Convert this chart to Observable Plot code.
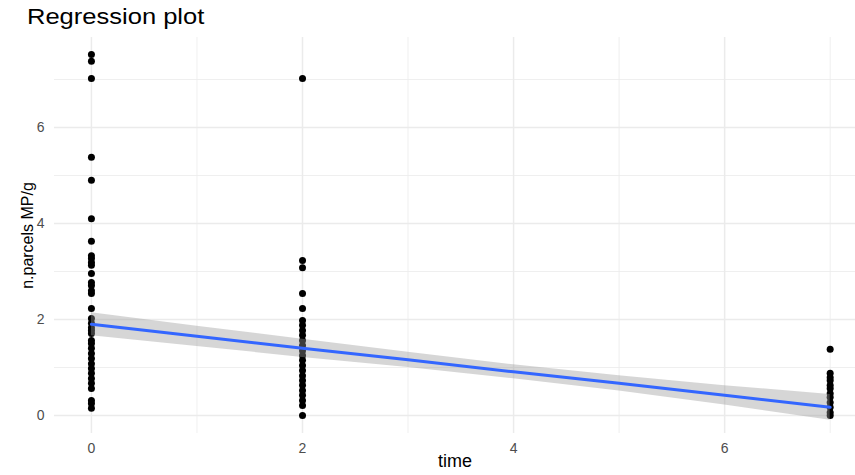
<!DOCTYPE html>
<html>
<head>
<meta charset="utf-8">
<script src="https://cdn.jsdelivr.net/npm/d3@7"></script>
<script src="https://cdn.jsdelivr.net/npm/@observablehq/plot@0.6"></script>
<style>
  html, body { margin: 0; padding: 0; background: #fff; }
  #title { height: 30px; font-family: "Liberation Sans", Arial, sans-serif; font-size: 22px; color: #000; padding-left: 27px; line-height: 34px; box-sizing: border-box; white-space: nowrap; }
  #title span { display: inline-block; transform: scaleX(1.16); transform-origin: left center; }
  #chart svg { display: block; font-family: "Liberation Sans", Arial, sans-serif !important; }
</style>
</head>
<body>
<div id="title"><span>Regression plot</span></div>
<div id="chart"></div>
<script>
// Observed values (time = 0, 2, 7)
const time0Values = [7.52, 7.38, 7.02, 5.38, 4.9, 4.1, 3.63, 3.33, 3.27, 3.19, 3.13, 2.96, 2.77, 2.71, 2.60, 2.54, 2.23, 2.02, 1.92, 1.83, 1.77, 1.71, 1.56, 1.50, 1.40, 1.29, 1.19, 1.08, 0.98, 0.88, 0.77, 0.67, 0.56, 0.31, 0.25, 0.15];
const time2Values = [7.02, 3.23, 3.08, 2.54, 2.23, 1.98, 1.88, 1.77, 1.67, 1.56, 1.46, 1.35, 1.25, 1.15, 1.04, 0.94, 0.83, 0.73, 0.63, 0.52, 0.42, 0.31, 0.21, 0.0];
const time7Values = [1.38, 0.88, 0.79, 0.73, 0.63, 0.56, 0.46, 0.38, 0.27, 0.17, 0.06, 0.0];

// Fitted regression line with confidence band
const fitTime = [0, 1, 2, 3, 4, 5, 6, 7];
const fitMean = [1.90, 1.65, 1.40, 1.16, 0.91, 0.67, 0.42, 0.17];
const fitLow  = [1.66, 1.44, 1.21, 1.00, 0.765, 0.51, 0.22, -0.10];
const fitHigh = [2.14, 1.86, 1.59, 1.32, 1.055, 0.83, 0.62, 0.44];

// Axis ticks
const majorTicksX = [0, 2, 4, 6];
const minorTicksX = [1, 3, 5, 7];
const majorTicksY = [0, 2, 4, 6];
const minorTicksY = [1, 3, 5, 7];

const points = [
  ...time0Values.map(v => ({time: 0, value: v})),
  ...time2Values.map(v => ({time: 2, value: v})),
  ...time7Values.map(v => ({time: 7, value: v}))
];
const fit = fitTime.map((t, i) => ({time: t, fit: fitMean[i], lo: fitLow[i], hi: fitHigh[i]}));

const chart = Plot.plot({
  width: 855,
  height: 445,
  marginLeft: 54,
  marginRight: 0,
  marginTop: 7,
  marginBottom: 42,
  x: {domain: [-0.35, 7.24]},
  y: {domain: [-0.375, 7.875]},
  marks: [
    Plot.ruleX(minorTicksX, {stroke: "#ebebeb", strokeWidth: 0.8}),
    Plot.ruleY(minorTicksY, {stroke: "#ebebeb", strokeWidth: 0.8}),
    Plot.ruleX(majorTicksX, {stroke: "#ebebeb", strokeWidth: 1.5}),
    Plot.ruleY(majorTicksY, {stroke: "#ebebeb", strokeWidth: 1.5}),
    Plot.axisX({ticks: majorTicksX, tickSize: 0, tickPadding: 10, label: null, fontSize: 14, fill: "#4d4d4d"}),
    Plot.axisY({ticks: majorTicksY, tickSize: 0, tickPadding: 10, label: null, fontSize: 14, fill: "#4d4d4d"}),
    Plot.dot(points, {x: "time", y: "value", r: 3.5, fill: "#000", stroke: "none"}),
    Plot.areaY(fit, {x: "time", y1: "lo", y2: "hi", fill: "#999999", fillOpacity: 0.4}),
    Plot.line(fit, {x: "time", y: "fit", stroke: "#3366FF", strokeWidth: 3}),
    Plot.text(["time"], {frameAnchor: "bottom", dy: 33, text: d => d, fontSize: 18, fill: "#000"}),
    Plot.text(["n.parcels MP/g"], {frameAnchor: "left", textAnchor: "middle", dx: -27, rotate: -90, text: d => d, fontSize: 16, fill: "#000"})
  ]
});
d3.select(chart).selectAll('g[aria-label$="tick label"]').attr("font-size", 14).selectAll("text").style("font-size", "14px").style("fill", "#4d4d4d");
document.getElementById("chart").appendChild(chart);
</script>
</body>
</html>
